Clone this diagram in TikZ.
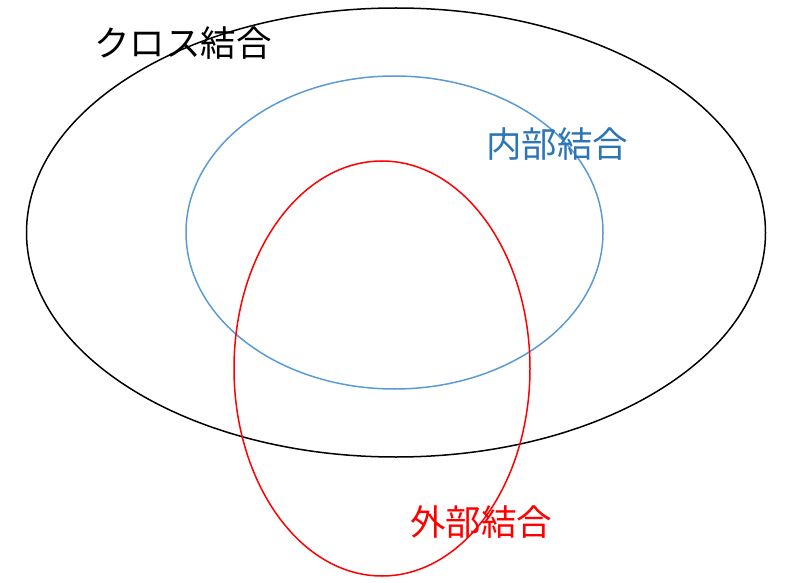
\documentclass[tikz,border=0pt]{standalone}
\usepackage{fontspec}
\newfontfamily\jp{Noto Sans CJK JP}
\definecolor{ellblue}{RGB}{91,155,213}
\definecolor{txtblue}{RGB}{46,117,182}
\begin{document}
\begin{tikzpicture}[x=1pt,y=-1pt,
  setline/.style={line width=1.5pt},
  setlabel/.style={font=\jp\fontsize{35.5}{40}\selectfont, inner sep=0pt}]
\useasboundingbox (0,0) rectangle (790,583);
\draw[setline,black] (396,232.5) ellipse [x radius=369.5, y radius=224.5];
\draw[setline,ellblue] (394.5,232.5) ellipse [x radius=208.5, y radius=156.5];
\draw[setline,red] (382,368.5) ellipse [x radius=148, y radius=207.5];
\node[setlabel,text=black] (cross) at (183,43) {クロス結合};
\node[setlabel,text=txtblue] (inner) at (557,144) {内部結合};
\node[setlabel,text=red] (outer) at (481,522) {外部結合};
\end{tikzpicture}
\end{document}
